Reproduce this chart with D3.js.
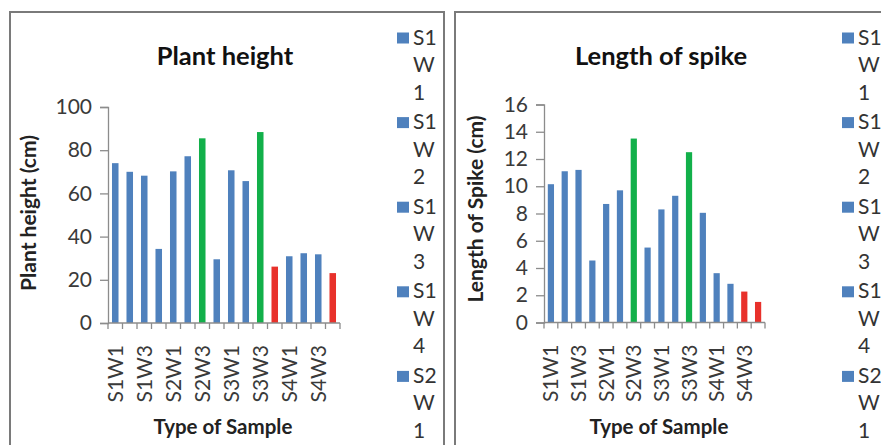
<!DOCTYPE html>
<html>
<head>
<meta charset="utf-8">
<script src="https://cdn.jsdelivr.net/npm/d3@7"></script>
<style>
  html, body { margin: 0; padding: 0; background: #fff; }
  svg { display: block; font-family: Lato, "Open Sans", sans-serif; }
</style>
</head>
<body>
<svg id="chart" width="881" height="445"></svg>
<script>
// Sample types (site S1–S4 × week W1–W4)
const categories = ["S1W1","S1W2","S1W3","S1W4","S2W1","S2W2","S2W3","S2W4",
                    "S3W1","S3W2","S3W3","S3W4","S4W1","S4W2","S4W3","S4W4"];
// Plant height (cm)
const plantHeight = [74, 70, 68.2, 34.3, 70.2, 77.2, 85.5, 29.5,
                     70.7, 65.7, 88.4, 26.1, 30.9, 32.3, 31.8, 23.1];
// Length of spike (cm)
const spikeLength = [10.15, 11.1, 11.2, 4.55, 8.7, 9.7, 13.5, 5.5,
                     8.3, 9.3, 12.5, 8.05, 3.62, 2.84, 2.27, 1.51];
// Highlight group for each bar: "n" normal, "hi" highest, "lo" lowest
const heightGroup = ["n","n","n","n","n","n","hi","n","n","n","hi","lo","n","n","n","lo"];
const spikeGroup  = ["n","n","n","n","n","n","hi","n","n","n","hi","n","n","n","lo","lo"];
const heightTicks = [0, 20, 40, 60, 80, 100];
const spikeTicks  = [0, 2, 4, 6, 8, 10, 12, 14, 16];
// Legend entries (only the first five fit in the frame)
const legendLabels = ["S1W1","S1W2","S1W3","S1W4","S2W1"];

const colors = { n: "#4f81bd", hi: "#12b04a", lo: "#e8312b" };
const svg = d3.select("#chart");

function panel(opt) {
  const g = svg.append("g");
  // frame
  g.append("rect")
    .attr("x", opt.frame[0]).attr("y", 12)
    .attr("width", opt.frame[1] - opt.frame[0]).attr("height", 480)
    .attr("fill", "#fff").attr("stroke", "#7a7a7a").attr("stroke-width", 2);

  const x = d3.scaleBand().domain(categories)
    .range([opt.x0, opt.x1]).paddingInner(0.55).paddingOuter(0.275);
  const y = d3.scaleLinear().domain([0, opt.max]).range([opt.y0, opt.y1]);

  // bars
  g.selectAll("rect.bar").data(opt.values).join("rect")
    .attr("class", "bar")
    .attr("x", (d, i) => x(categories[i]))
    .attr("width", x.bandwidth())
    .attr("y", d => y(d))
    .attr("height", d => y(0) - y(d))
    .attr("fill", (d, i) => colors[opt.groups[i]]);

  // y axis
  const ya = g.append("g").attr("transform", `translate(${opt.x0},0)`)
    .call(d3.axisLeft(y).tickValues(opt.ticks).tickSize(8).tickPadding(8));
  ya.select(".domain").attr("stroke", "#8c8c8c").attr("stroke-width", 1.3);
  ya.selectAll(".tick line").attr("stroke", "#8c8c8c").attr("stroke-width", 1.3);
  ya.selectAll(".tick text").attr("font-size", 21).attr("fill", "#3a3a3a")
    .attr("font-family", "Lato, sans-serif");

  // x axis: tick marks at category boundaries
  const step = x.step();
  const bounds = d3.range(categories.length + 1).map(i => opt.x0 + i * step);
  g.append("line").attr("x1", opt.x0).attr("x2", opt.x1)
    .attr("y1", y(0)).attr("y2", y(0))
    .attr("stroke", "#8c8c8c").attr("stroke-width", 1.3);
  g.selectAll("line.xt").data(bounds).join("line")
    .attr("class", "xt")
    .attr("x1", d => d).attr("x2", d => d)
    .attr("y1", y(0)).attr("y2", y(0) + 6)
    .attr("stroke", "#8c8c8c").attr("stroke-width", 1.3);

  // category labels, every other one
  g.selectAll("text.xl").data(categories.filter((c, i) => i % 2 === 0)).join("text")
    .attr("class", "xl")
    .attr("transform", d => `translate(${x(d) + x.bandwidth() / 2 + 7.5},${y(0) + 22}) rotate(-90)`)
    .attr("text-anchor", "end")
    .attr("font-size", 21).attr("fill", "#3a3a3a")
    .text(d => d);

  // titles
  g.append("text").attr("x", opt.titleX).attr("y", 65)
    .attr("text-anchor", "middle").attr("font-size", 25.5).attr("font-weight", "bold")
    .attr("fill", "#111").text(opt.title);
  g.append("text").attr("x", opt.titleX - 2).attr("y", 434)
    .attr("text-anchor", "middle").attr("font-size", 20.5).attr("font-weight", "bold")
    .attr("fill", "#222").text("Type of Sample");
  g.append("text")
    .attr("transform", `translate(${opt.yTitleX},${opt.yTitleY}) rotate(-90)`)
    .attr("text-anchor", "middle").attr("font-size", 21).attr("font-weight", "bold")
    .attr("fill", "#222").text(opt.yTitle);

  // legend (labels wrap onto three lines)
  const lg = g.selectAll("g.lg").data(legendLabels).join("g")
    .attr("class", "lg")
    .attr("transform", (d, i) => `translate(${opt.legendX},${44.5 + i * 84.6})`);
  lg.append("rect").attr("x", 0).attr("y", -12).attr("width", 12).attr("height", 11)
    .attr("fill", colors.n);
  lg.append("text").attr("x", 16).attr("font-size", 21).attr("fill", "#333")
    .selectAll("tspan").data(d => [d.slice(0, 2), d[2], d.slice(3)]).join("tspan")
    .attr("x", 16).attr("dy", (d, i) => i === 0 ? 0 : 27.5)
    .text(d => d);
}

panel({
  frame: [10, 444], x0: 108, x1: 340, y0: 323, y1: 107, max: 100,
  values: plantHeight, groups: heightGroup, ticks: heightTicks,
  title: "Plant height", titleX: 225, yTitle: "Plant height (cm)",
  yTitleX: 36, yTitleY: 213, legendX: 397
});
panel({
  frame: [455, 1000], x0: 544, x1: 765, y0: 322.5, y1: 104.5, max: 16,
  values: spikeLength, groups: spikeGroup, ticks: spikeTicks,
  title: "Length of spike", titleX: 661, yTitle: "Length of Spike (cm)",
  yTitleX: 483, yTitleY: 209, legendX: 842
});
</script>
</body>
</html>
